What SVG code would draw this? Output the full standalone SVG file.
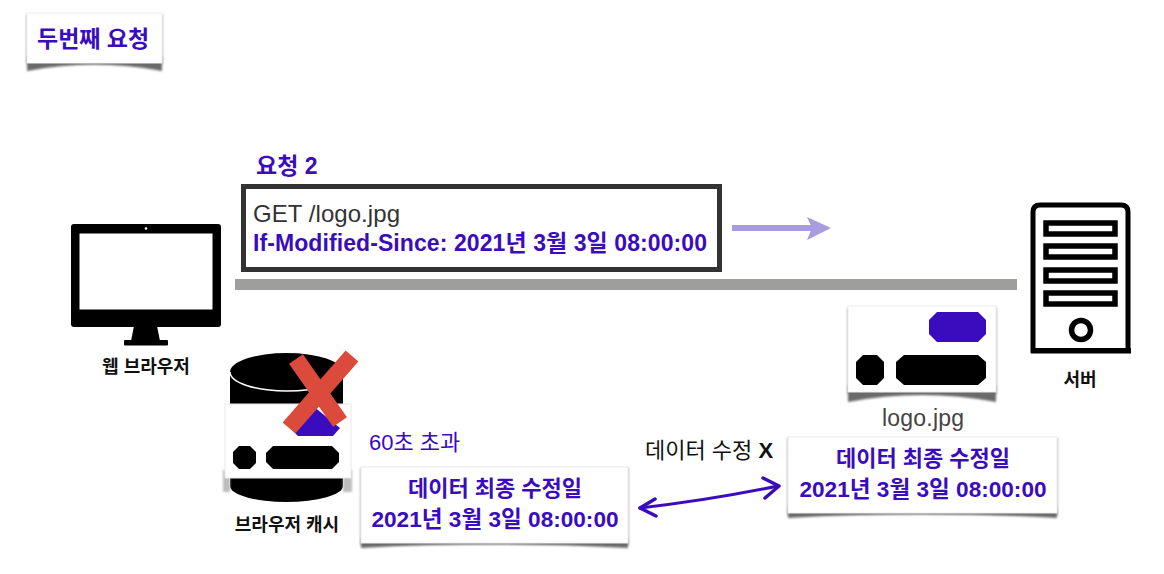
<svg xmlns="http://www.w3.org/2000/svg" width="1164" height="574" viewBox="0 0 1164 574">
<defs>
<filter id="soft" x="-20%" y="-50%" width="140%" height="200%"><feGaussianBlur stdDeviation="1.2"/></filter>
</defs>
<style>
text{font-family:"Liberation Sans","Noto Sans CJK KR",sans-serif}
.b{font-weight:700;fill:#3a0cbd}
.m{text-anchor:middle}
.k{font-weight:700;fill:#111;font-size:18px}
.card{fill:#fff;stroke:#ececec;stroke-width:1}
.sh{fill:#6a6a6a;filter:url(#soft)}
.side{fill:#bdbdbd;filter:url(#soft)}
.blk{fill:#000}
.blu{fill:#3a0cbd}
</style>
<rect width="1164" height="574" fill="#fff"/>

<g id="title">
<rect class="side" x="26" y="14" width="137" height="50"/>
<path class="sh" d="M27,56 L27,71 Q94,58 162,71 L162,56 Z"/>
<rect x="27" y="13" width="135" height="50" fill="#fff" stroke="#f0f0f0"/>
<text class="b" x="37" y="47" font-size="23">두번째 요청</text>
</g>

<g id="request">
<text class="b" x="256" y="174" font-size="23">요청 2</text>
<rect x="243.500" y="186.500" width="476" height="83" fill="#fff" stroke="#333" stroke-width="5"/>
<text x="253" y="222" font-size="24" fill="#333" textLength="147">GET /logo.jpg</text>
<text class="b" x="253" y="251" font-size="23" textLength="454">If-Modified-Since: 2021년 3월 3일 08:00:00</text>
</g>

<g id="connectors">
<rect x="235" y="279" width="782" height="11" fill="#9e9e9c"/>
<path d="M732,228 H812" stroke="#a99be0" stroke-width="6" fill="none"/>
<path d="M807,217 L831,228 L807,240 L812,228 Z" fill="#a99be0"/>
<g fill="none" stroke="#3a0cbd" stroke-linecap="round" stroke-linejoin="round">
<path d="M640,508 Q710,500 778,486" stroke-width="3"/>
<path d="M655,499 L640,508 L656,516" stroke-width="3.500"/>
<path d="M763,478 L779,486 L765,498" stroke-width="3.500"/>
</g>
</g>

<g id="browser">
<rect class="blk" x="71" y="224" width="150" height="103" rx="3"/>
<rect x="79.500" y="233.500" width="133" height="76" fill="#fff"/>
<circle cx="146" cy="228.500" r="1.300" fill="#fff"/>
<path class="blk" d="M134,326 H157 L160,341 H131 Z"/>
<rect class="blk" x="124" y="340" width="44" height="5.500" rx="1"/>
<text class="k m" x="146" y="373">웹 브라우저</text>
</g>

<g id="cache">
<path class="blk" d="M230,372 A56.500,19 0 0 1 343,372 V486 A56.500,16 0 0 1 230,486 Z"/>
<path d="M230,372 A56.500,19 0 0 0 343,372" fill="none" stroke="#fff" stroke-width="1.500"/>
<rect class="side" x="223" y="470" width="7" height="22"/>
<rect class="side" x="343" y="470" width="9" height="22"/>
<rect x="225" y="404" width="126" height="74" fill="#fff" stroke="#e8e8e8"/>
<path class="blu" d="M313,406 L340,428 L333,436 H298 L290,428 Z"/>
<path class="blk" d="M233,452 L239,446 H250 L256,452 V463 L250,469 H239 L233,463 Z"/>
<path class="blk" d="M266,453 L273,446 H332 L339,453 V462 L332,469 H273 L266,462 Z"/>
<g fill="none" stroke="#db4a3a" stroke-width="17">
<path d="M296,359 L340,422"/>
<path d="M352,356 L289,428"/>
</g>
<text class="k m" x="287" y="531">브라우저 캐시</text>
</g>

<g id="server">
<path d="M1033,353 V212 Q1033,205 1040,205 H1121 Q1128,205 1128,212 V353" fill="none" stroke="#000" stroke-width="5"/>
<rect class="blk" x="1031" y="348" width="100" height="5.500"/>
<g fill="#fff" stroke="#000" stroke-width="5.500">
<rect x="1046" y="223" width="69" height="11"/>
<rect x="1046" y="246" width="69" height="11"/>
<rect x="1046" y="270" width="69" height="11"/>
<rect x="1046" y="293" width="69" height="11"/>
<circle cx="1081" cy="330" r="9.500"/>
</g>
<text class="k m" x="1080" y="386">서버</text>
</g>

<g id="logo">
<rect class="side" x="847" y="308" width="150" height="86"/>
<path class="sh" d="M848,385 L848,402 Q922,388 996,402 L996,385 Z"/>
<rect class="card" x="848" y="306" width="148" height="86"/>
<path class="blu" d="M929,320 L937,312 H978 L986,320 V334 L978,342 H937 L929,334 Z"/>
<path class="blk" d="M856,362 L863,355 H877 L884,362 V378 L877,385 H863 L856,378 Z"/>
<path class="blk" d="M896,362 L904,355 H978 L986,362 V378 L978,385 H904 L896,378 Z"/>
<text class="m" x="923" y="426" font-size="23" fill="#444" textLength="82">logo.jpg</text>
</g>

<g id="server-date">
<rect class="side" x="787" y="438" width="271" height="77"/>
<path class="sh" d="M788,508 V518 Q922,510 1057,518 V508 Z"/>
<rect class="card" x="788" y="437" width="269" height="76"/>
<text class="b m" x="923" y="466" font-size="22">데이터 최종 수정일</text>
<text class="b m" x="923" y="497" font-size="22.600">2021년 3월 3일 08:00:00</text>
</g>

<g id="cache-date">
<rect class="side" x="360" y="468" width="269" height="77"/>
<path class="sh" d="M361,538 V548 Q495,540 628,548 V538 Z"/>
<rect class="card" x="361" y="467" width="267" height="76"/>
<text class="b m" x="495" y="496" font-size="22">데이터 최종 수정일</text>
<text class="b m" x="495" y="527" font-size="22.600">2021년 3월 3일 08:00:00</text>
</g>

<g id="notes">
<text x="369" y="450" font-size="22" fill="#3a0cbd">60초 초과</text>
<text x="645" y="458" font-size="22" fill="#111">데이터 수정 <tspan font-weight="700">X</tspan></text>
</g>
</svg>
